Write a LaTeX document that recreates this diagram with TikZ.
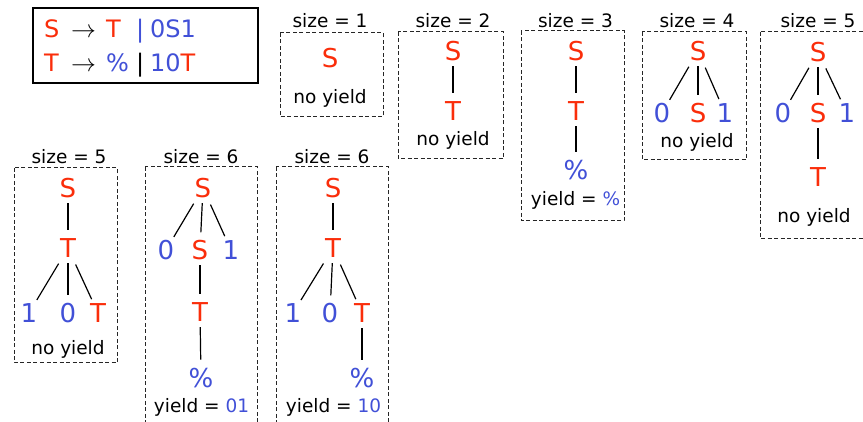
\documentclass[tikz,border=0pt]{standalone}
\usepackage{fontspec}
\setmainfont{DejaVu Sans}
\definecolor{tred}{RGB}{250,45,10}
\definecolor{tblue}{RGB}{65,80,215}
\newcommand\gcol[2]{\makebox[#1][l]{#2}}
\begin{document}
\begin{tikzpicture}[x=1pt,y=-1pt,
  sym/.style={circle,inner sep=0pt,minimum size=30pt,font=\fontsize{26}{30}\selectfont},
  nt/.style={sym,text=tred},
  tm/.style={sym,text=tblue},
  lab/.style={inner sep=0pt,font=\fontsize{18.5}{22}\selectfont},
  gline/.style={inner sep=0pt,anchor=base west,font=\fontsize{24}{28}\selectfont},
  frame/.style={draw=black!85,dash pattern=on 4pt off 2.5pt,line width=1pt},
  edge/.style={line width=1.2pt,shorten >=2.5pt},
  dedge/.style={line width=1.2pt,shorten <=3pt}]
\useasboundingbox (0,0) rectangle (863,422);
\clip (0,0) rectangle (863,422);

% grammar
\node[draw,line width=1.3pt,minimum width=225pt,minimum height=75pt,inner sep=0pt] (gram) at (145.5,45.5) {};
\node[gline] (g1) at (44,38) {\gcol{27pt}{\color{tred}S}\gcol{35pt}{$\rightarrow$}\gcol{30pt}{\color{tred}T}\gcol{14pt}{\color{tblue}|}{\color{tblue}0S1}};
\node[gline] (g2) at (44,72) {\gcol{27pt}{\color{tred}T}\gcol{35pt}{$\rightarrow$}\gcol{30pt}{\color{tblue}\%}\gcol{14pt}{|}{\color{tblue}10}{\color{tred}T}};

% size = 1
\node[lab] (l1) at (330,21) {size = 1};
\draw[frame] (280,33) rectangle (383,117);
\node[nt] (a1) at (330,58) {S};
\node[lab] (y1) at (330,98) {no yield};

% size = 2
\node[lab] (l2) at (453,21) {size = 2};
\draw[frame] (398,32) rectangle (503,159);
\node[nt] (b1) at (453,51) {S};
\node[nt] (b2) at (453,111) {T};
\node[lab] (y2) at (453,140) {no yield};
\draw[edge] (b1) -- (b2);

% size = 3
\node[lab] (l3) at (575.5,21) {size = 3};
\draw[frame] (521,31) rectangle (624,221);
\node[nt] (c1) at (576,51) {S};
\node[nt] (c2) at (576,111) {T};
\node[tm] (c3) at (576,170) {\%};
\node[lab] (y3) at (575.5,200) {yield = {\color{tblue}\%}};
\draw[edge] (c1) -- (c2);
\draw[edge] (c2) -- (c3);

% size = 4
\node[lab] (l4) at (697,21) {size = 4};
\draw[frame] (642,32) rectangle (746,160);
\node[nt] (d1) at (698,51) {S};
\node[tm] (d2) at (662,113) {0};
\node[nt] (d3) at (698,113) {S};
\node[tm] (d4) at (725,113) {1};
\node[lab] (y4) at (697,142) {no yield};
\draw[dedge] (d1) -- (d2);
\draw[edge] (d1) -- (d3);
\draw[dedge] (d1) -- (d4);

% size = 5 (top)
\node[lab] (l5) at (818,21) {size = 5};
\draw[frame] (760,32) rectangle (900,239);
\node[nt] (e1) at (818,52) {S};
\node[tm] (e2) at (783,113) {0};
\node[nt] (e3) at (818,113) {S};
\node[tm] (e4) at (847,113) {1};
\node[nt] (e5) at (818,177) {T};
\node[lab] (y5) at (814,217) {no yield};
\draw[dedge] (e1) -- (e2);
\draw[edge] (e1) -- (e3);
\draw[dedge] (e1) -- (e4);
\draw[edge] (e3) -- (e5);

% size = 5 (bottom)
\node[lab] (l6) at (69,157) {size = 5};
\draw[frame] (14,168) rectangle (117,363);
\node[nt] (f1) at (68,188) {S};
\node[nt] (f2) at (68,248) {T};
\node[tm] (f3) at (29,313) {1};
\node[tm] (f4) at (68,313) {0};
\node[nt] (f5) at (98,313) {T};
\node[lab] (y6) at (68,349) {no yield};
\draw[edge] (f1) -- (f2);
\draw[dedge] (f2) -- (f3);
\draw[edge] (f2) -- (f4);
\draw[dedge] (f2) -- (f5);

% size = 6 (01)
\node[lab] (l7) at (201,157) {size = 6};
\draw[frame] (145,167) rectangle (257,440);
\node[nt] (g1n) at (203,188) {S};
\node[tm] (g2n) at (166,250) {0};
\node[nt] (g3n) at (200,250) {S};
\node[tm] (g4n) at (231,250) {1};
\node[nt] (g5n) at (200,312) {T};
\node[tm] (g6n) at (201,378) {\%};
\node[lab] (y7) at (201.5,407) {yield = {\color{tblue}01}};
\draw[dedge] (g1n) -- (g2n);
\draw[edge] (g1n) -- (g3n);
\draw[dedge] (g1n) -- (g4n);
\draw[edge] (g3n) -- (g5n);
\draw[edge] (g5n) -- (g6n);

% size = 6 (10)
\node[lab] (l8) at (332,157) {size = 6};
\draw[frame] (276,167) rectangle (388,440);
\node[nt] (h1) at (333,188) {S};
\node[nt] (h2) at (333,248) {T};
\node[tm] (h3) at (293,313) {1};
\node[tm] (h4) at (330,313) {0};
\node[nt] (h5) at (362,313) {T};
\node[tm] (h6) at (362,378) {\%};
\node[lab] (y8) at (333.5,407) {yield = {\color{tblue}10}};
\draw[edge] (h1) -- (h2);
\draw[dedge] (h2) -- (h3);
\draw[edge] (h2) -- (h4);
\draw[dedge] (h2) -- (h5);
\draw[edge] (h5) -- (h6);
\end{tikzpicture}
\end{document}
